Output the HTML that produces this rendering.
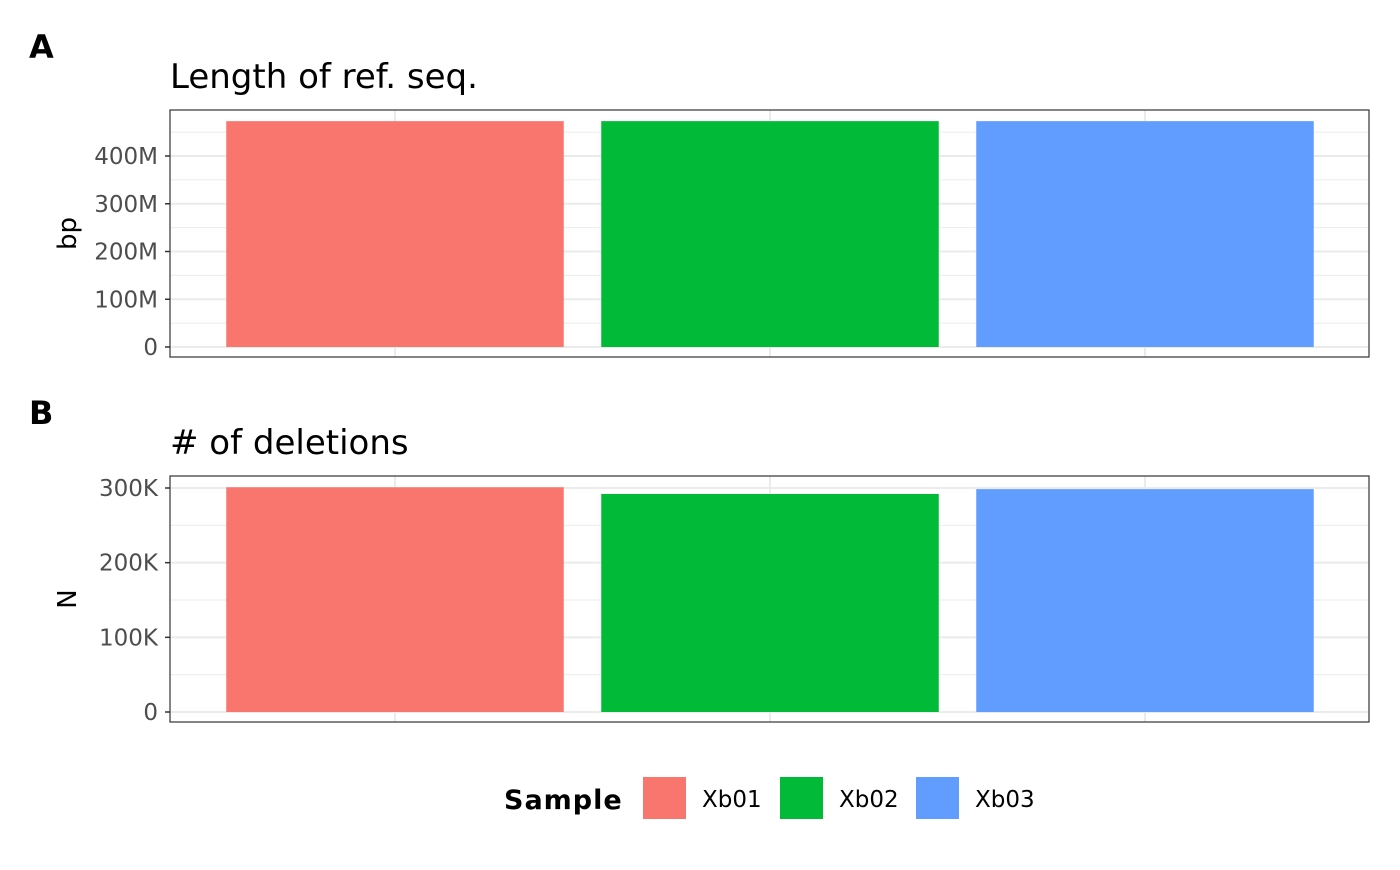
<!DOCTYPE html>
<html><head><meta charset="utf-8"><style>
body{margin:0;background:#fff;font-family:"Liberation Sans","DejaVu Sans",sans-serif;}
</style></head><body>
<svg id="chart" width="1400" height="865" xmlns="http://www.w3.org/2000/svg" font-family="DejaVu Sans, Liberation Sans, sans-serif"></svg>
<script>
const categories = ["Xb01","Xb02","Xb03"];
const colors = ["#F8766D","#00BA38","#619CFF"];
const refLength = [473e6, 473e6, 473e6];
const deletions = [301000, 292000, 298500];
const ticksA = [0,100e6,200e6,300e6,400e6];
const tickLabelsA = ["0","100M","200M","300M","400M"];
const ticksB = [0,100e3,200e3,300e3];
const tickLabelsB = ["0","100K","200K","300K"];

const svg = document.getElementById('chart');
const NS = "http://www.w3.org/2000/svg";
function mk(tag, attrs, parent, text){
  const e = document.createElementNS(NS, tag);
  for (const k in attrs) e.setAttribute(k, attrs[k]);
  if (text !== undefined) e.textContent = text;
  (parent || svg).appendChild(e);
  return e;
}
const px0 = 170, px1 = 1369;
const xBand = i => 395 + i * 375;
const bw = 337.5;

function panel(o){
  const g = mk('g', {});
  
  
  const y = v => o.y0 - v * o.scale;
  for (let i = 0; i < o.ticks.length; i++){
    const m = o.ticks[i] + o.step/2;
    if (y(m) > o.top) { const l = mk('line',{x1:px0,x2:px1,y1:y(m),y2:y(m),stroke:"#ebebeb","stroke-width":1},g);
        }
  }
  o.ticks.forEach((t, i) => {
    const l = mk('line',{x1:px0,x2:px1,y1:y(t),y2:y(t),stroke:"#ebebeb","stroke-width":2},g);
     
    const tk = mk('line',{x1:px0-5,x2:px0,y1:y(t),y2:y(t),stroke:"#333","stroke-width":1.5},g);
     
    const tx = mk('text',{x:px0-12,y:y(t)+8,"text-anchor":"end","font-size":23,fill:"#4d4d4d"},g,o.labels[i]);
     
  });
  categories.forEach((c, i) => {
    const l = mk('line',{x1:xBand(i),x2:xBand(i),y1:o.top,y2:o.bottom,stroke:"#ebebeb","stroke-width":2},g);
     
  });
  o.values.forEach((v, i) => {
    const r = mk('rect',{x:xBand(i)-bw/2,y:y(v),width:bw,height:o.y0-y(v),fill:colors[i]},g);
     
  });
  const b = mk('rect',{x:px0,y:o.top,width:px1-px0,height:o.bottom-o.top,fill:"none",stroke:"#333","stroke-width":1.2},g);
   
  const t = mk('text',{x:170,y:o.top-22,"font-size":34,fill:"#000"},g,o.title);
   
  const yt = mk('text',{x:0,y:0,"font-size":26,fill:"#000","text-anchor":"middle",transform:`translate(76,${(o.top+o.bottom)/2}) rotate(-90)`},g,o.ytitle);
   
  const tag = mk('text',{x:29,y:o.top-52,"font-size":32,"font-weight":"bold",fill:"#000"},g,o.tag);
   
}
panel({name:'panel-ref-length',values:refLength,ticks:ticksA,labels:tickLabelsA,step:100e6,y0:347,scale:191/400e6,top:110,bottom:357,title:"Length of ref. seq.",ytitle:"bp",tag:"A"});
panel({name:'panel-deletions',values:deletions,ticks:ticksB,labels:tickLabelsB,step:100e3,y0:712,scale:224/300e3,top:476,bottom:722,title:"# of deletions",ytitle:"N",tag:"B"});

const lg = mk('g', {});
 
const lt = mk('text',{x:504,y:809,"font-size":27,"font-weight":"bold","letter-spacing":1,fill:"#000"},lg,"Sample");
 
const lx = [643, 780, 916];
categories.forEach((c, i) => {
  const r = mk('rect',{x:lx[i],y:777,width:43,height:42,fill:colors[i]},lg);
   
  const t = mk('text',{x:lx[i]+59,y:807,"font-size":23,fill:"#000"},lg,c);
   
});
</script>
</body></html>
